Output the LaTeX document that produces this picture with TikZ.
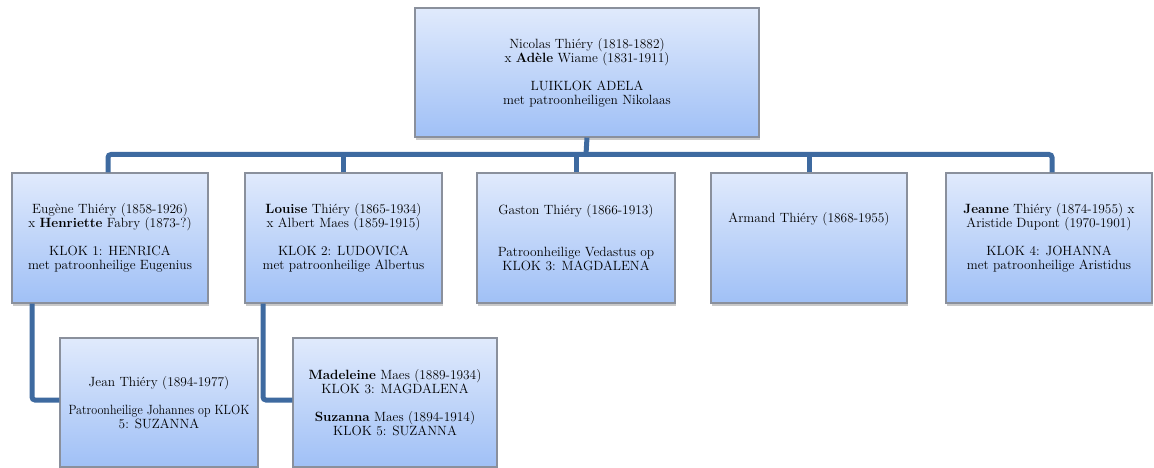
\documentclass[tikz,border=0pt]{standalone}
\usepackage{tikz}
\usetikzlibrary{shadows}
\definecolor{linkblue}{RGB}{62,106,160}
\definecolor{boxtop}{RGB}{224,234,252}
\definecolor{boxbottom}{RGB}{160,192,246}
\definecolor{boxline}{RGB}{138,144,156}
\tikzset{every picture/.style={line width=0.75pt}}
\tikzset{
  person/.style={draw=boxline, line width=1.2pt, top color=boxtop, bottom color=boxbottom,
    align=center, inner sep=0pt, minimum height=130pt,
    font=\fontsize{13.4}{14}\selectfont,
    drop shadow={shadow xshift=1pt, shadow yshift=-3pt, opacity=0.3, fill=black!70}},
  link/.style={draw=linkblue, line width=5pt, rounded corners=3pt}
}

\begin{document}
\begin{tikzpicture}[x=1pt,y=1pt,yscale=-1,xscale=1]
    \useasboundingbox (0,0) rectangle (1154,468);
    % parents
    \node[person, minimum width=344pt, minimum height=129pt] (nicolas) at (587,72.5)
      {Nicolas Thiéry (1818-1882)\\ x \textbf{Adèle} Wiame (1831-1911)\\ ~\\ LUIKLOK ADELA\\ met patroonheiligen Nikolaas};
    % children
    \node[person, minimum width=196pt] (eugene) at (110,238)
      {Eugène Thiéry (1858-1926)\\ x \textbf{Henriette} Fabry (1873-?)\\ ~\\ KLOK 1: HENRICA\\ met patroonheilige Eugenius};
    \node[person, minimum width=197pt] (louise) at (343.5,238)
      {\textbf{Louise} Thiéry (1865-1934)\\ x Albert Maes (1859-1915)\\ ~\\ KLOK 2: LUDOVICA\\ met patroonheilige Albertus};
    \node[person, minimum width=198pt] (gaston) at (576,238)
      {Gaston Thiéry (1866-1913)\\ ~\\ ~\\ Patroonheilige Vedastus op\\ KLOK 3: MAGDALENA};
    \node[person, minimum width=196pt] (armand) at (809,238)
      {Armand Thiéry (1868-1955)\\ ~\\ ~\\ ~};
    \node[person, minimum width=206pt] (jeanne) at (1049,238)
      {\textbf{Jeanne} Thiéry (1874-1955) x\\ Aristide Dupont (1970-1901)\\ ~\\ KLOK 4: JOHANNA\\ met patroonheilige Aristidus};
    % grandchildren
    \node[person, minimum width=198pt, minimum height=129pt] (jean) at (159,402.5)
      {Jean Thiéry (1894-1977)\\ ~\\ \scalebox{0.9}[1]{Patroonheilige Johannes op KLOK}\\ 5: SUZANNA};
    \node[person, minimum width=204pt, minimum height=129pt] (madeleine) at (395,402.5)
      {\textbf{Madeleine} Maes (1889-1934)\\ KLOK 3: MAGDALENA\\ ~\\ \textbf{Suzanna} Maes (1894-1914)\\ KLOK 5: SUZANNA};
    % connectors
    \coordinate (bar) at (586,154.5);
    \draw[link] (nicolas.south) -- (bar);
    \draw[link] ([xshift=-2pt]eugene.north) |- (bar) -| ([xshift=3pt]jeanne.north);
    \foreach \child in {louise, gaston, armand}
      \draw[link] (\child.north) -- (\child.north |- bar);
    \draw[link] ([xshift=-78pt]eugene.south) |- ([yshift=-2.5pt]jean.west);
    \draw[link] ([xshift=-80.5pt]louise.south) |- ([yshift=-2.5pt]madeleine.west);
\end{tikzpicture}
\end{document}
